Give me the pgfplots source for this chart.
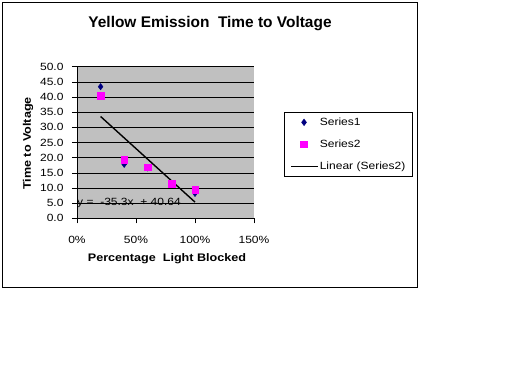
\documentclass[border=0pt]{standalone}
\usepackage{pgfplots}
\pgfplotsset{compat=1.18}
\usepackage{fontspec}
\setmainfont[FakeStretch=1.15]{Liberation Sans}
\newfontfamily\titlefont{Liberation Sans}
\definecolor{plotgray}{RGB}{192,192,192}
\definecolor{navyS}{RGB}{0,0,128}
\definecolor{magS}{RGB}{255,0,255}
\pgfplotsset{
  markleg/.style={legend image code/.code={\draw[##1] plot coordinates {(13bp,0bp)};}},
  lineleg/.style={legend image code/.code={\draw[##1, line width=1.5bp] (0bp,0bp) -- (27bp,0bp);}},
}
\begin{document}
\begin{tikzpicture}
\useasboundingbox (0,0) rectangle (512bp,-384bp);
\draw[black, line width=0.8bp] (2bp,-2bp) rectangle (417bp,-287bp);
\node[font=\titlefont\fontsize{15.5}{18}\selectfont\bfseries] at (210bp,-24bp) {Yellow Emission\ \ Time to Voltage};
\node[font=\fontsize{11}{13}\selectfont\bfseries] at (167bp,-259bp) {Percentage\ \ Light Blocked};
\node[font=\fontsize{11}{13}\selectfont\bfseries, rotate=90] at (28bp,-143.5bp) {Time to Voltage};
\begin{axis}[
  at={(77bp,-218.3bp)}, anchor=south west,
  scale only axis, width=177bp, height=151.6bp,
  xmin=0, xmax=1.5, ymin=0, ymax=50,
  axis background/.style={fill=plotgray},
  axis x line*=bottom, axis y line*=left,
  axis line style={-, black, line width=0.6bp},
  xtick={0,0.5,1,1.5}, xticklabels={0\%,50\%,100\%,150\%},
  ytick={0,5,...,50},
  y tick label style={/pgf/number format/fixed, /pgf/number format/fixed zerofill, /pgf/number format/precision=1},
  /pgf/number format/assume math mode=true,
  tick label style={font=\fontsize{10.5}{12}\selectfont, black},
  xticklabel style={yshift=-9bp},
  yticklabel style={xshift=-5bp},
  tick align=outside, major tick length=5bp,
  tick style={black, line width=0.6bp},
  ymajorgrids, grid style={black, line width=0.6bp},
  clip=false,
  legend style={at={(1.1695,0.701)}, anchor=north west, draw=black, line width=0.6bp,
    font=\fontsize{10.5}{12}\selectfont, row sep=9bp, inner xsep=6bp, inner ysep=3.5bp,
    nodes={inner xsep=1bp}},
  legend cell align=left,
]
\addplot[only marks, mark=diamond*, mark size=3.2bp, color=navyS, markleg] coordinates {
 (0.2,43.4) (0.4,17.8) (0.6,16.6) (0.8,11.4) (1.0,8.2)};
\addlegendentry{Series1}
\addplot[only marks, mark=square*, mark size=3.3bp, color=magS, markleg] coordinates {
 (0.2,40.5) (0.4,19.3) (0.6,16.9) (0.8,11.5) (1.0,9.4)};
\addlegendentry{Series2}
\addplot[black, line width=1.4bp, mark=none, lineleg] coordinates {(0.2,33.58) (1.0,5.34)};
\addlegendentry{Linear (Series2)}
\node[anchor=west, inner sep=0pt, font=\fontsize{10.5}{12}\selectfont] at (axis cs:0,5) {y =\ \ -35.3x\ \ + 40.64};
\end{axis}
\end{tikzpicture}
\end{document}
